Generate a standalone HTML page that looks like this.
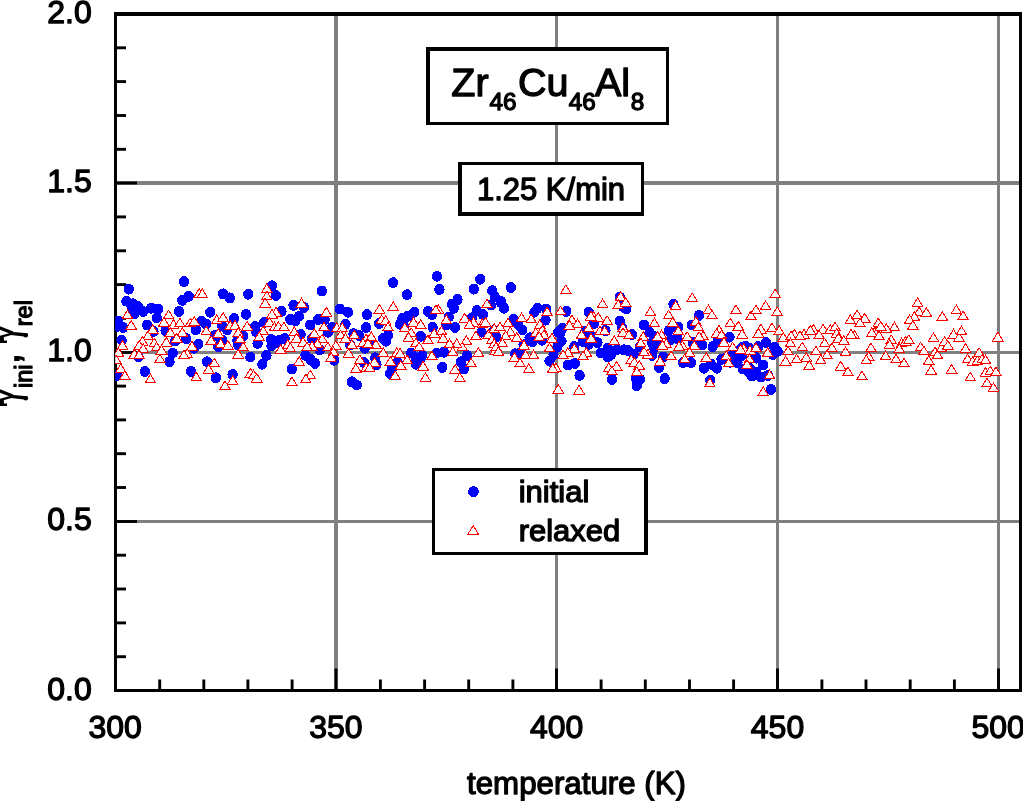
<!DOCTYPE html>
<html><head><meta charset="utf-8"><title>chart</title>
<style>html,body{margin:0;padding:0;background:#fff;overflow:hidden}svg{display:block;will-change:transform}text{font-family:"Liberation Sans",sans-serif;fill:#000;stroke:#000;stroke-width:1.3px;stroke-linejoin:round}</style></head><body>
<svg width="1023" height="801" viewBox="0 0 1023 801">
<rect width="1023" height="801" fill="#fff"/>
<g fill="#808080" shape-rendering="crispEdges">
<rect x="334" y="14" width="4" height="676"/>
<rect x="555" y="14" width="3" height="676"/>
<rect x="776" y="14" width="3" height="676"/>
<rect x="997" y="14" width="3" height="676"/>
<rect x="116" y="181" width="904" height="4"/>
<rect x="116" y="351" width="904" height="3"/>
<rect x="116" y="520" width="904" height="3"/>
</g>
<g fill="#000" shape-rendering="crispEdges">
<rect x="114" y="12" width="908" height="4"/>
<rect x="114" y="689" width="908" height="3"/>
<rect x="114" y="12" width="3" height="680"/>
<rect x="1019" y="12" width="3" height="680"/>
</g>
<g stroke="#000" fill="none" stroke-width="2.9">
<line x1="159.7" y1="690" x2="159.7" y2="679.5"/>
<line x1="203.8" y1="690" x2="203.8" y2="679.5"/>
<line x1="247.9" y1="690" x2="247.9" y2="679.5"/>
<line x1="292.1" y1="690" x2="292.1" y2="679.5"/>
<line x1="336.0" y1="690" x2="336.0" y2="668.5"/>
<line x1="380.4" y1="690" x2="380.4" y2="679.5"/>
<line x1="424.6" y1="690" x2="424.6" y2="679.5"/>
<line x1="468.7" y1="690" x2="468.7" y2="679.5"/>
<line x1="512.9" y1="690" x2="512.9" y2="679.5"/>
<line x1="556.5" y1="690" x2="556.5" y2="668.5"/>
<line x1="601.1" y1="690" x2="601.1" y2="679.5"/>
<line x1="645.3" y1="690" x2="645.3" y2="679.5"/>
<line x1="689.5" y1="690" x2="689.5" y2="679.5"/>
<line x1="733.6" y1="690" x2="733.6" y2="679.5"/>
<line x1="777.5" y1="690" x2="777.5" y2="668.5"/>
<line x1="821.9" y1="690" x2="821.9" y2="679.5"/>
<line x1="866.0" y1="690" x2="866.0" y2="679.5"/>
<line x1="910.2" y1="690" x2="910.2" y2="679.5"/>
<line x1="954.4" y1="690" x2="954.4" y2="679.5"/>
<line x1="998.5" y1="690" x2="998.5" y2="668.5"/>
<line x1="116" y1="656.7" x2="126.0" y2="656.7"/>
<line x1="116" y1="622.9" x2="126.0" y2="622.9"/>
<line x1="116" y1="589.0" x2="126.0" y2="589.0"/>
<line x1="116" y1="555.2" x2="126.0" y2="555.2"/>
<line x1="116" y1="521.5" x2="137.0" y2="521.5"/>
<line x1="116" y1="487.5" x2="126.0" y2="487.5"/>
<line x1="116" y1="453.7" x2="126.0" y2="453.7"/>
<line x1="116" y1="419.9" x2="126.0" y2="419.9"/>
<line x1="116" y1="386.1" x2="126.0" y2="386.1"/>
<line x1="116" y1="352.5" x2="137.0" y2="352.5"/>
<line x1="116" y1="318.4" x2="126.0" y2="318.4"/>
<line x1="116" y1="284.6" x2="126.0" y2="284.6"/>
<line x1="116" y1="250.8" x2="126.0" y2="250.8"/>
<line x1="116" y1="216.9" x2="126.0" y2="216.9"/>
<line x1="116" y1="183.0" x2="137.0" y2="183.0"/>
<line x1="116" y1="149.3" x2="126.0" y2="149.3"/>
<line x1="116" y1="115.5" x2="126.0" y2="115.5"/>
<line x1="116" y1="81.6" x2="126.0" y2="81.6"/>
<line x1="116" y1="47.8" x2="126.0" y2="47.8"/>
</g>
<clipPath id="c"><rect x="115.2" y="14" width="905" height="676"/></clipPath>
<g clip-path="url(#c)" shape-rendering="crispEdges">
<g fill="#0000ff">
<ellipse cx="128.8" cy="289.1" rx="5.15" ry="5.5"/>
<ellipse cx="183.9" cy="281.6" rx="5.15" ry="5.5"/>
<ellipse cx="126.4" cy="301.1" rx="5.15" ry="5.5"/>
<ellipse cx="132.8" cy="303.8" rx="5.15" ry="5.5"/>
<ellipse cx="136.0" cy="310.2" rx="5.15" ry="5.5"/>
<ellipse cx="188.7" cy="296.3" rx="5.15" ry="5.5"/>
<ellipse cx="182.3" cy="300.3" rx="5.15" ry="5.5"/>
<ellipse cx="223.1" cy="293.9" rx="5.15" ry="5.5"/>
<ellipse cx="229.9" cy="297.9" rx="5.15" ry="5.5"/>
<ellipse cx="151.1" cy="308.2" rx="5.15" ry="5.5"/>
<ellipse cx="158.3" cy="309.0" rx="5.15" ry="5.5"/>
<ellipse cx="143.2" cy="311.4" rx="5.15" ry="5.5"/>
<ellipse cx="134.4" cy="313.8" rx="5.15" ry="5.5"/>
<ellipse cx="179.1" cy="311.4" rx="5.15" ry="5.5"/>
<ellipse cx="210.3" cy="312.2" rx="5.15" ry="5.5"/>
<ellipse cx="156.7" cy="317.8" rx="5.15" ry="5.5"/>
<ellipse cx="118.4" cy="321.0" rx="5.15" ry="5.5"/>
<ellipse cx="123.2" cy="327.4" rx="5.15" ry="5.5"/>
<ellipse cx="147.2" cy="325.0" rx="5.15" ry="5.5"/>
<ellipse cx="165.5" cy="330.6" rx="5.15" ry="5.5"/>
<ellipse cx="201.5" cy="321.0" rx="5.15" ry="5.5"/>
<ellipse cx="206.3" cy="324.2" rx="5.15" ry="5.5"/>
<ellipse cx="195.9" cy="329.8" rx="5.15" ry="5.5"/>
<ellipse cx="234.2" cy="318.6" rx="5.15" ry="5.5"/>
<ellipse cx="227.1" cy="329.8" rx="5.15" ry="5.5"/>
<ellipse cx="222.3" cy="325.8" rx="5.15" ry="5.5"/>
<ellipse cx="121.6" cy="340.2" rx="5.15" ry="5.5"/>
<ellipse cx="175.1" cy="341.0" rx="5.15" ry="5.5"/>
<ellipse cx="186.3" cy="338.6" rx="5.15" ry="5.5"/>
<ellipse cx="198.3" cy="344.2" rx="5.15" ry="5.5"/>
<ellipse cx="194.3" cy="348.2" rx="5.15" ry="5.5"/>
<ellipse cx="222.3" cy="340.2" rx="5.15" ry="5.5"/>
<ellipse cx="218.3" cy="346.6" rx="5.15" ry="5.5"/>
<ellipse cx="237.4" cy="340.2" rx="5.15" ry="5.5"/>
<ellipse cx="238.2" cy="345.0" rx="5.15" ry="5.5"/>
<ellipse cx="172.7" cy="353.0" rx="5.15" ry="5.5"/>
<ellipse cx="169.5" cy="361.8" rx="5.15" ry="5.5"/>
<ellipse cx="138.4" cy="357.0" rx="5.15" ry="5.5"/>
<ellipse cx="207.1" cy="361.8" rx="5.15" ry="5.5"/>
<ellipse cx="144.8" cy="371.4" rx="5.15" ry="5.5"/>
<ellipse cx="191.1" cy="371.4" rx="5.15" ry="5.5"/>
<ellipse cx="215.9" cy="377.8" rx="5.15" ry="5.5"/>
<ellipse cx="232.6" cy="374.6" rx="5.15" ry="5.5"/>
<ellipse cx="116.8" cy="375.4" rx="5.15" ry="5.5"/>
<ellipse cx="215.1" cy="335.4" rx="5.15" ry="5.5"/>
<ellipse cx="153.5" cy="331.4" rx="5.15" ry="5.5"/>
<ellipse cx="248.3" cy="294.2" rx="5.15" ry="5.5"/>
<ellipse cx="272.0" cy="285.9" rx="5.15" ry="5.5"/>
<ellipse cx="276.0" cy="295.5" rx="5.15" ry="5.5"/>
<ellipse cx="321.8" cy="291.0" rx="5.15" ry="5.5"/>
<ellipse cx="246.1" cy="314.3" rx="5.15" ry="5.5"/>
<ellipse cx="293.5" cy="305.4" rx="5.15" ry="5.5"/>
<ellipse cx="303.9" cy="307.4" rx="5.15" ry="5.5"/>
<ellipse cx="281.5" cy="311.4" rx="5.15" ry="5.5"/>
<ellipse cx="299.1" cy="316.2" rx="5.15" ry="5.5"/>
<ellipse cx="290.3" cy="319.4" rx="5.15" ry="5.5"/>
<ellipse cx="339.9" cy="309.0" rx="5.15" ry="5.5"/>
<ellipse cx="347.9" cy="312.2" rx="5.15" ry="5.5"/>
<ellipse cx="367.0" cy="314.6" rx="5.15" ry="5.5"/>
<ellipse cx="264.0" cy="322.6" rx="5.15" ry="5.5"/>
<ellipse cx="255.2" cy="326.6" rx="5.15" ry="5.5"/>
<ellipse cx="318.3" cy="319.4" rx="5.15" ry="5.5"/>
<ellipse cx="310.3" cy="325.0" rx="5.15" ry="5.5"/>
<ellipse cx="324.7" cy="319.4" rx="5.15" ry="5.5"/>
<ellipse cx="331.9" cy="327.4" rx="5.15" ry="5.5"/>
<ellipse cx="345.5" cy="324.2" rx="5.15" ry="5.5"/>
<ellipse cx="300.7" cy="334.6" rx="5.15" ry="5.5"/>
<ellipse cx="271.2" cy="339.4" rx="5.15" ry="5.5"/>
<ellipse cx="257.6" cy="343.4" rx="5.15" ry="5.5"/>
<ellipse cx="279.1" cy="340.2" rx="5.15" ry="5.5"/>
<ellipse cx="284.7" cy="338.6" rx="5.15" ry="5.5"/>
<ellipse cx="274.4" cy="343.4" rx="5.15" ry="5.5"/>
<ellipse cx="250.4" cy="357.0" rx="5.15" ry="5.5"/>
<ellipse cx="266.4" cy="355.4" rx="5.15" ry="5.5"/>
<ellipse cx="262.4" cy="364.2" rx="5.15" ry="5.5"/>
<ellipse cx="305.5" cy="355.4" rx="5.15" ry="5.5"/>
<ellipse cx="310.3" cy="359.4" rx="5.15" ry="5.5"/>
<ellipse cx="315.1" cy="363.4" rx="5.15" ry="5.5"/>
<ellipse cx="291.9" cy="369.0" rx="5.15" ry="5.5"/>
<ellipse cx="334.3" cy="360.2" rx="5.15" ry="5.5"/>
<ellipse cx="319.9" cy="349.8" rx="5.15" ry="5.5"/>
<ellipse cx="351.9" cy="381.8" rx="5.15" ry="5.5"/>
<ellipse cx="356.7" cy="385.0" rx="5.15" ry="5.5"/>
<ellipse cx="366.2" cy="327.4" rx="5.15" ry="5.5"/>
<ellipse cx="364.6" cy="348.2" rx="5.15" ry="5.5"/>
<ellipse cx="353.5" cy="333.8" rx="5.15" ry="5.5"/>
<ellipse cx="359.0" cy="335.4" rx="5.15" ry="5.5"/>
<ellipse cx="243.2" cy="336.2" rx="5.15" ry="5.5"/>
<ellipse cx="311.9" cy="338.6" rx="5.15" ry="5.5"/>
<ellipse cx="327.9" cy="332.2" rx="5.15" ry="5.5"/>
<ellipse cx="350.3" cy="345.0" rx="5.15" ry="5.5"/>
<ellipse cx="363.8" cy="362.6" rx="5.15" ry="5.5"/>
<ellipse cx="393.1" cy="282.7" rx="5.15" ry="5.5"/>
<ellipse cx="437.0" cy="276.3" rx="5.15" ry="5.5"/>
<ellipse cx="480.3" cy="279.2" rx="5.15" ry="5.5"/>
<ellipse cx="407.1" cy="294.7" rx="5.15" ry="5.5"/>
<ellipse cx="439.4" cy="289.4" rx="5.15" ry="5.5"/>
<ellipse cx="473.9" cy="289.1" rx="5.15" ry="5.5"/>
<ellipse cx="492.3" cy="290.7" rx="5.15" ry="5.5"/>
<ellipse cx="457.5" cy="299.5" rx="5.15" ry="5.5"/>
<ellipse cx="451.9" cy="304.3" rx="5.15" ry="5.5"/>
<ellipse cx="414.3" cy="312.2" rx="5.15" ry="5.5"/>
<ellipse cx="407.9" cy="316.2" rx="5.15" ry="5.5"/>
<ellipse cx="402.4" cy="318.6" rx="5.15" ry="5.5"/>
<ellipse cx="400.0" cy="324.2" rx="5.15" ry="5.5"/>
<ellipse cx="427.9" cy="311.4" rx="5.15" ry="5.5"/>
<ellipse cx="431.9" cy="314.6" rx="5.15" ry="5.5"/>
<ellipse cx="448.7" cy="317.0" rx="5.15" ry="5.5"/>
<ellipse cx="476.7" cy="310.6" rx="5.15" ry="5.5"/>
<ellipse cx="483.1" cy="314.6" rx="5.15" ry="5.5"/>
<ellipse cx="379.2" cy="323.4" rx="5.15" ry="5.5"/>
<ellipse cx="432.7" cy="327.4" rx="5.15" ry="5.5"/>
<ellipse cx="455.1" cy="327.4" rx="5.15" ry="5.5"/>
<ellipse cx="420.7" cy="336.2" rx="5.15" ry="5.5"/>
<ellipse cx="388.0" cy="335.4" rx="5.15" ry="5.5"/>
<ellipse cx="383.2" cy="338.6" rx="5.15" ry="5.5"/>
<ellipse cx="411.1" cy="353.0" rx="5.15" ry="5.5"/>
<ellipse cx="415.9" cy="357.8" rx="5.15" ry="5.5"/>
<ellipse cx="422.3" cy="355.4" rx="5.15" ry="5.5"/>
<ellipse cx="415.9" cy="364.2" rx="5.15" ry="5.5"/>
<ellipse cx="436.7" cy="353.0" rx="5.15" ry="5.5"/>
<ellipse cx="443.9" cy="352.2" rx="5.15" ry="5.5"/>
<ellipse cx="442.3" cy="367.4" rx="5.15" ry="5.5"/>
<ellipse cx="467.1" cy="355.4" rx="5.15" ry="5.5"/>
<ellipse cx="460.7" cy="361.8" rx="5.15" ry="5.5"/>
<ellipse cx="463.9" cy="369.0" rx="5.15" ry="5.5"/>
<ellipse cx="392.0" cy="368.2" rx="5.15" ry="5.5"/>
<ellipse cx="397.6" cy="362.6" rx="5.15" ry="5.5"/>
<ellipse cx="375.2" cy="357.8" rx="5.15" ry="5.5"/>
<ellipse cx="481.5" cy="332.2" rx="5.15" ry="5.5"/>
<ellipse cx="494.2" cy="330.6" rx="5.15" ry="5.5"/>
<ellipse cx="371.2" cy="343.4" rx="5.15" ry="5.5"/>
<ellipse cx="471.9" cy="317.8" rx="5.15" ry="5.5"/>
<ellipse cx="491.0" cy="305.1" rx="5.15" ry="5.5"/>
<ellipse cx="495.0" cy="297.1" rx="5.15" ry="5.5"/>
<ellipse cx="510.9" cy="287.5" rx="5.15" ry="5.5"/>
<ellipse cx="500.8" cy="301.1" rx="5.15" ry="5.5"/>
<ellipse cx="504.0" cy="308.2" rx="5.15" ry="5.5"/>
<ellipse cx="537.5" cy="308.2" rx="5.15" ry="5.5"/>
<ellipse cx="546.3" cy="309.0" rx="5.15" ry="5.5"/>
<ellipse cx="534.4" cy="312.2" rx="5.15" ry="5.5"/>
<ellipse cx="566.3" cy="311.4" rx="5.15" ry="5.5"/>
<ellipse cx="588.7" cy="312.2" rx="5.15" ry="5.5"/>
<ellipse cx="513.6" cy="319.4" rx="5.15" ry="5.5"/>
<ellipse cx="545.5" cy="320.2" rx="5.15" ry="5.5"/>
<ellipse cx="518.4" cy="325.0" rx="5.15" ry="5.5"/>
<ellipse cx="522.4" cy="329.8" rx="5.15" ry="5.5"/>
<ellipse cx="619.8" cy="321.0" rx="5.15" ry="5.5"/>
<ellipse cx="594.3" cy="323.4" rx="5.15" ry="5.5"/>
<ellipse cx="562.3" cy="328.2" rx="5.15" ry="5.5"/>
<ellipse cx="558.3" cy="332.2" rx="5.15" ry="5.5"/>
<ellipse cx="605.5" cy="330.6" rx="5.15" ry="5.5"/>
<ellipse cx="529.6" cy="337.8" rx="5.15" ry="5.5"/>
<ellipse cx="542.3" cy="340.2" rx="5.15" ry="5.5"/>
<ellipse cx="561.5" cy="341.0" rx="5.15" ry="5.5"/>
<ellipse cx="557.5" cy="346.6" rx="5.15" ry="5.5"/>
<ellipse cx="583.1" cy="341.8" rx="5.15" ry="5.5"/>
<ellipse cx="588.7" cy="344.2" rx="5.15" ry="5.5"/>
<ellipse cx="597.5" cy="342.6" rx="5.15" ry="5.5"/>
<ellipse cx="574.3" cy="346.6" rx="5.15" ry="5.5"/>
<ellipse cx="553.5" cy="354.6" rx="5.15" ry="5.5"/>
<ellipse cx="549.5" cy="361.0" rx="5.15" ry="5.5"/>
<ellipse cx="515.2" cy="353.8" rx="5.15" ry="5.5"/>
<ellipse cx="520.0" cy="353.0" rx="5.15" ry="5.5"/>
<ellipse cx="600.7" cy="353.0" rx="5.15" ry="5.5"/>
<ellipse cx="607.9" cy="348.2" rx="5.15" ry="5.5"/>
<ellipse cx="616.6" cy="349.8" rx="5.15" ry="5.5"/>
<ellipse cx="611.1" cy="354.6" rx="5.15" ry="5.5"/>
<ellipse cx="567.9" cy="365.0" rx="5.15" ry="5.5"/>
<ellipse cx="575.1" cy="363.4" rx="5.15" ry="5.5"/>
<ellipse cx="579.6" cy="375.4" rx="5.15" ry="5.5"/>
<ellipse cx="611.9" cy="379.4" rx="5.15" ry="5.5"/>
<ellipse cx="619.8" cy="297.1" rx="5.15" ry="5.5"/>
<ellipse cx="623.0" cy="306.7" rx="5.15" ry="5.5"/>
<ellipse cx="623.8" cy="349.8" rx="5.15" ry="5.5"/>
<ellipse cx="496.0" cy="337.0" rx="5.15" ry="5.5"/>
<ellipse cx="590.3" cy="335.4" rx="5.15" ry="5.5"/>
<ellipse cx="585.5" cy="331.4" rx="5.15" ry="5.5"/>
<ellipse cx="626.4" cy="309.0" rx="5.15" ry="5.5"/>
<ellipse cx="673.5" cy="304.3" rx="5.15" ry="5.5"/>
<ellipse cx="699.1" cy="315.4" rx="5.15" ry="5.5"/>
<ellipse cx="644.0" cy="325.0" rx="5.15" ry="5.5"/>
<ellipse cx="691.9" cy="325.0" rx="5.15" ry="5.5"/>
<ellipse cx="678.3" cy="327.4" rx="5.15" ry="5.5"/>
<ellipse cx="668.7" cy="330.6" rx="5.15" ry="5.5"/>
<ellipse cx="649.6" cy="332.2" rx="5.15" ry="5.5"/>
<ellipse cx="632.0" cy="334.6" rx="5.15" ry="5.5"/>
<ellipse cx="729.5" cy="337.0" rx="5.15" ry="5.5"/>
<ellipse cx="677.5" cy="338.6" rx="5.15" ry="5.5"/>
<ellipse cx="652.0" cy="342.6" rx="5.15" ry="5.5"/>
<ellipse cx="657.6" cy="344.2" rx="5.15" ry="5.5"/>
<ellipse cx="670.3" cy="340.2" rx="5.15" ry="5.5"/>
<ellipse cx="640.0" cy="346.6" rx="5.15" ry="5.5"/>
<ellipse cx="628.0" cy="350.6" rx="5.15" ry="5.5"/>
<ellipse cx="633.6" cy="354.6" rx="5.15" ry="5.5"/>
<ellipse cx="702.3" cy="345.0" rx="5.15" ry="5.5"/>
<ellipse cx="712.7" cy="346.6" rx="5.15" ry="5.5"/>
<ellipse cx="717.5" cy="341.8" rx="5.15" ry="5.5"/>
<ellipse cx="692.7" cy="342.6" rx="5.15" ry="5.5"/>
<ellipse cx="742.2" cy="347.4" rx="5.15" ry="5.5"/>
<ellipse cx="749.4" cy="348.2" rx="5.15" ry="5.5"/>
<ellipse cx="734.3" cy="351.4" rx="5.15" ry="5.5"/>
<ellipse cx="663.1" cy="357.0" rx="5.15" ry="5.5"/>
<ellipse cx="652.0" cy="355.4" rx="5.15" ry="5.5"/>
<ellipse cx="659.2" cy="367.4" rx="5.15" ry="5.5"/>
<ellipse cx="683.1" cy="362.6" rx="5.15" ry="5.5"/>
<ellipse cx="691.1" cy="362.6" rx="5.15" ry="5.5"/>
<ellipse cx="703.9" cy="368.2" rx="5.15" ry="5.5"/>
<ellipse cx="711.1" cy="364.2" rx="5.15" ry="5.5"/>
<ellipse cx="716.7" cy="368.2" rx="5.15" ry="5.5"/>
<ellipse cx="721.5" cy="359.4" rx="5.15" ry="5.5"/>
<ellipse cx="737.5" cy="362.6" rx="5.15" ry="5.5"/>
<ellipse cx="743.0" cy="369.0" rx="5.15" ry="5.5"/>
<ellipse cx="748.6" cy="372.2" rx="5.15" ry="5.5"/>
<ellipse cx="664.7" cy="378.6" rx="5.15" ry="5.5"/>
<ellipse cx="636.0" cy="378.6" rx="5.15" ry="5.5"/>
<ellipse cx="640.0" cy="379.4" rx="5.15" ry="5.5"/>
<ellipse cx="636.8" cy="385.7" rx="5.15" ry="5.5"/>
<ellipse cx="710.3" cy="380.2" rx="5.15" ry="5.5"/>
<ellipse cx="726.3" cy="357.8" rx="5.15" ry="5.5"/>
<ellipse cx="739.1" cy="355.4" rx="5.15" ry="5.5"/>
<ellipse cx="766.1" cy="342.6" rx="5.15" ry="5.5"/>
<ellipse cx="758.4" cy="346.6" rx="5.15" ry="5.5"/>
<ellipse cx="774.4" cy="347.4" rx="5.15" ry="5.5"/>
<ellipse cx="777.6" cy="351.4" rx="5.15" ry="5.5"/>
<ellipse cx="772.8" cy="354.6" rx="5.15" ry="5.5"/>
<ellipse cx="753.6" cy="355.4" rx="5.15" ry="5.5"/>
<ellipse cx="763.2" cy="365.0" rx="5.15" ry="5.5"/>
<ellipse cx="756.0" cy="372.2" rx="5.15" ry="5.5"/>
<ellipse cx="760.8" cy="377.0" rx="5.15" ry="5.5"/>
<ellipse cx="768.0" cy="375.4" rx="5.15" ry="5.5"/>
<ellipse cx="770.9" cy="389.4" rx="5.15" ry="5.5"/>
<ellipse cx="752.0" cy="370.6" rx="5.15" ry="5.5"/>
<ellipse cx="386.0" cy="341.2" rx="5.15" ry="5.5"/>
<ellipse cx="419.5" cy="361.0" rx="5.15" ry="5.5"/>
<ellipse cx="390.2" cy="373.6" rx="5.15" ry="5.5"/>
<ellipse cx="453.7" cy="308.3" rx="5.15" ry="5.5"/>
<ellipse cx="404.0" cy="326.3" rx="5.15" ry="5.5"/>
<ellipse cx="446.5" cy="324.5" rx="5.15" ry="5.5"/>
<ellipse cx="376.4" cy="364.6" rx="5.15" ry="5.5"/>
<ellipse cx="501.2" cy="302.9" rx="5.15" ry="5.5"/>
<ellipse cx="532.6" cy="341.6" rx="5.15" ry="5.5"/>
<ellipse cx="523.6" cy="344.8" rx="5.15" ry="5.5"/>
<ellipse cx="607.9" cy="356.8" rx="5.15" ry="5.5"/>
<ellipse cx="560.6" cy="332.2" rx="5.15" ry="5.5"/>
<ellipse cx="622.3" cy="328.1" rx="5.15" ry="5.5"/>
<ellipse cx="653.5" cy="336.4" rx="5.15" ry="5.5"/>
<ellipse cx="654.1" cy="347.8" rx="5.15" ry="5.5"/>
<ellipse cx="732.7" cy="355.0" rx="5.15" ry="5.5"/>
<ellipse cx="748.3" cy="367.0" rx="5.15" ry="5.5"/>
<ellipse cx="745.3" cy="346.4" rx="5.15" ry="5.5"/>
<ellipse cx="729.7" cy="362.2" rx="5.15" ry="5.5"/>
<ellipse cx="131.8" cy="308.3" rx="5.15" ry="5.5"/>
<ellipse cx="137.8" cy="306.5" rx="5.15" ry="5.5"/>
<ellipse cx="117.4" cy="326.3" rx="5.15" ry="5.5"/>
<ellipse cx="271.5" cy="345.7" rx="5.15" ry="5.5"/>
<ellipse cx="295.5" cy="320.5" rx="5.15" ry="5.5"/>
<ellipse cx="255.9" cy="331.6" rx="5.15" ry="5.5"/>
<ellipse cx="752.0" cy="376.1" rx="5.15" ry="5.5"/>
<ellipse cx="756.2" cy="358.1" rx="5.15" ry="5.5"/>
<ellipse cx="741.8" cy="355.7" rx="5.15" ry="5.5"/>
</g>
<g fill="#fff" stroke="#ff0000" stroke-width="1">
<path d="M199.1 288.7L204.4 297.4L193.8 297.4Z"/>
<path d="M202.3 289.1L207.6 297.8L197.0 297.8Z"/>
<path d="M127.5 310.2L132.8 318.9L122.2 318.9Z"/>
<path d="M131.2 320.6L136.5 329.3L125.9 329.3Z"/>
<path d="M168.7 310.2L174.0 318.9L163.4 318.9Z"/>
<path d="M163.9 317.4L169.2 326.1L158.6 326.1Z"/>
<path d="M173.5 319.8L178.8 328.5L168.2 328.5Z"/>
<path d="M179.9 318.2L185.2 326.9L174.6 326.9Z"/>
<path d="M190.3 318.2L195.6 326.9L185.0 326.9Z"/>
<path d="M194.3 316.6L199.6 325.3L189.0 325.3Z"/>
<path d="M216.7 315.0L222.0 323.7L211.4 323.7Z"/>
<path d="M223.1 312.6L228.4 321.3L217.8 321.3Z"/>
<path d="M230.2 320.6L235.5 329.3L224.9 329.3Z"/>
<path d="M235.0 320.6L240.3 329.3L229.7 329.3Z"/>
<path d="M152.7 324.6L158.0 333.3L147.4 333.3Z"/>
<path d="M148.0 331.0L153.3 339.7L142.7 339.7Z"/>
<path d="M170.3 327.8L175.6 336.5L165.0 336.5Z"/>
<path d="M182.3 327.8L187.6 336.5L177.0 336.5Z"/>
<path d="M176.7 333.4L182.0 342.1L171.4 342.1Z"/>
<path d="M206.3 326.2L211.6 334.9L201.0 334.9Z"/>
<path d="M218.3 328.6L223.6 337.3L213.0 337.3Z"/>
<path d="M238.2 327.8L243.5 336.5L232.9 336.5Z"/>
<path d="M211.1 335.8L216.4 344.5L205.8 344.5Z"/>
<path d="M220.7 339.0L226.0 347.7L215.4 347.7Z"/>
<path d="M227.9 340.6L233.2 349.3L222.6 349.3Z"/>
<path d="M166.3 337.4L171.6 346.1L161.0 346.1Z"/>
<path d="M142.4 336.6L147.7 345.3L137.1 345.3Z"/>
<path d="M139.2 340.6L144.5 349.3L133.9 349.3Z"/>
<path d="M154.3 338.2L159.6 346.9L149.0 346.9Z"/>
<path d="M156.7 342.2L162.0 350.9L151.4 350.9Z"/>
<path d="M143.2 343.8L148.5 352.5L137.9 352.5Z"/>
<path d="M122.4 340.6L127.7 349.3L117.1 349.3Z"/>
<path d="M118.4 347.8L123.7 356.5L113.1 356.5Z"/>
<path d="M134.4 349.4L139.7 358.1L129.1 358.1Z"/>
<path d="M139.2 350.2L144.5 358.9L133.9 358.9Z"/>
<path d="M161.5 345.4L166.8 354.1L156.2 354.1Z"/>
<path d="M159.9 354.2L165.2 362.9L154.6 362.9Z"/>
<path d="M191.9 341.4L197.2 350.1L186.6 350.1Z"/>
<path d="M187.1 348.6L192.4 357.3L181.8 357.3Z"/>
<path d="M183.9 350.2L189.2 358.9L178.6 358.9Z"/>
<path d="M238.2 349.4L243.5 358.1L232.9 358.1Z"/>
<path d="M214.3 358.2L219.6 366.9L209.0 366.9Z"/>
<path d="M208.7 364.6L214.0 373.3L203.4 373.3Z"/>
<path d="M120.8 363.8L126.1 372.5L115.5 372.5Z"/>
<path d="M124.8 371.0L130.1 379.7L119.5 379.7Z"/>
<path d="M150.4 374.2L155.7 382.9L145.1 382.9Z"/>
<path d="M196.2 372.2L201.5 380.9L190.9 380.9Z"/>
<path d="M232.6 375.8L237.9 384.5L227.3 384.5Z"/>
<path d="M225.0 381.0L230.3 389.7L219.7 389.7Z"/>
<path d="M116.0 355.0L121.3 363.7L110.7 363.7Z"/>
<path d="M266.8 283.9L272.1 292.6L261.5 292.6Z"/>
<path d="M266.8 291.1L272.1 299.8L261.5 299.8Z"/>
<path d="M265.2 298.3L270.5 307.0L259.9 307.0Z"/>
<path d="M301.5 298.3L306.8 307.0L296.2 307.0Z"/>
<path d="M326.3 307.4L331.6 316.1L321.0 316.1Z"/>
<path d="M276.0 307.4L281.3 316.1L270.7 316.1Z"/>
<path d="M272.0 309.4L277.3 318.1L266.7 318.1Z"/>
<path d="M269.6 317.4L274.9 326.1L264.3 326.1Z"/>
<path d="M274.4 322.2L279.7 330.9L269.1 330.9Z"/>
<path d="M278.4 321.7L283.7 330.4L273.1 330.4Z"/>
<path d="M283.9 322.2L289.2 330.9L278.6 330.9Z"/>
<path d="M247.2 321.4L252.5 330.1L241.9 330.1Z"/>
<path d="M263.2 326.2L268.5 334.9L257.9 334.9Z"/>
<path d="M259.2 331.8L264.5 340.5L253.9 340.5Z"/>
<path d="M294.3 327.0L299.6 335.7L289.0 335.7Z"/>
<path d="M296.7 333.4L302.0 342.1L291.4 342.1Z"/>
<path d="M287.9 339.8L293.2 348.5L282.6 348.5Z"/>
<path d="M303.1 337.4L308.4 346.1L297.8 346.1Z"/>
<path d="M243.2 342.2L248.5 350.9L237.9 350.9Z"/>
<path d="M280.7 344.6L286.0 353.3L275.4 353.3Z"/>
<path d="M290.3 343.0L295.6 351.7L285.0 351.7Z"/>
<path d="M314.3 328.6L319.6 337.3L309.0 337.3Z"/>
<path d="M323.9 322.2L329.2 330.9L318.6 330.9Z"/>
<path d="M322.3 334.2L327.6 342.9L317.0 342.9Z"/>
<path d="M317.5 339.0L322.8 347.7L312.2 347.7Z"/>
<path d="M311.9 341.4L317.2 350.1L306.6 350.1Z"/>
<path d="M307.1 342.2L312.4 350.9L301.8 350.9Z"/>
<path d="M327.9 342.2L333.2 350.9L322.6 350.9Z"/>
<path d="M336.7 323.0L342.0 331.7L331.4 331.7Z"/>
<path d="M342.3 323.0L347.6 331.7L337.0 331.7Z"/>
<path d="M340.7 330.2L346.0 338.9L335.4 338.9Z"/>
<path d="M345.5 333.4L350.8 342.1L340.2 342.1Z"/>
<path d="M335.9 340.6L341.2 349.3L330.6 349.3Z"/>
<path d="M333.5 347.0L338.8 355.7L328.2 355.7Z"/>
<path d="M331.1 352.6L336.4 361.3L325.8 361.3Z"/>
<path d="M354.3 330.2L359.6 338.9L349.0 338.9Z"/>
<path d="M351.9 339.8L357.2 348.5L346.6 348.5Z"/>
<path d="M348.7 348.6L354.0 357.3L343.4 357.3Z"/>
<path d="M366.2 334.2L371.5 342.9L360.9 342.9Z"/>
<path d="M363.0 338.2L368.3 346.9L357.7 346.9Z"/>
<path d="M359.8 355.0L365.1 363.7L354.5 363.7Z"/>
<path d="M355.9 363.8L361.2 372.5L350.6 372.5Z"/>
<path d="M366.2 363.0L371.5 371.7L360.9 371.7Z"/>
<path d="M299.1 356.6L304.4 365.3L293.8 365.3Z"/>
<path d="M250.4 368.6L255.7 377.3L245.1 377.3Z"/>
<path d="M253.6 370.2L258.9 378.9L248.3 378.9Z"/>
<path d="M256.8 373.4L262.1 382.1L251.5 382.1Z"/>
<path d="M291.9 377.0L297.2 385.7L286.6 385.7Z"/>
<path d="M310.3 370.2L315.6 378.9L305.0 378.9Z"/>
<path d="M305.8 374.2L311.1 382.9L300.5 382.9Z"/>
<path d="M240.0 334.2L245.3 342.9L234.7 342.9Z"/>
<path d="M379.5 304.6L384.8 313.3L374.2 313.3Z"/>
<path d="M393.2 301.9L398.5 310.6L387.9 310.6Z"/>
<path d="M438.3 304.6L443.6 313.3L433.0 313.3Z"/>
<path d="M487.0 299.1L492.3 307.8L481.7 307.8Z"/>
<path d="M381.6 315.0L386.9 323.7L376.3 323.7Z"/>
<path d="M385.6 315.8L390.9 324.5L380.3 324.5Z"/>
<path d="M388.0 322.2L393.3 330.9L382.7 330.9Z"/>
<path d="M413.5 317.4L418.8 326.1L408.2 326.1Z"/>
<path d="M420.7 319.8L426.0 328.5L415.4 328.5Z"/>
<path d="M404.8 323.0L410.1 331.7L399.5 331.7Z"/>
<path d="M411.1 327.8L416.4 336.5L405.8 336.5Z"/>
<path d="M408.7 332.6L414.0 341.3L403.4 341.3Z"/>
<path d="M415.9 338.2L421.2 346.9L410.6 346.9Z"/>
<path d="M419.1 342.2L424.4 350.9L413.8 350.9Z"/>
<path d="M427.9 335.0L433.2 343.7L422.6 343.7Z"/>
<path d="M434.3 328.6L439.6 337.3L429.0 337.3Z"/>
<path d="M441.5 326.2L446.8 334.9L436.2 334.9Z"/>
<path d="M443.1 333.4L448.4 342.1L437.8 342.1Z"/>
<path d="M446.3 315.0L451.6 323.7L441.0 323.7Z"/>
<path d="M464.7 313.4L470.0 322.1L459.4 322.1Z"/>
<path d="M473.5 317.4L478.8 326.1L468.2 326.1Z"/>
<path d="M482.3 319.0L487.6 327.7L477.0 327.7Z"/>
<path d="M485.4 317.4L490.7 326.1L480.1 326.1Z"/>
<path d="M469.5 319.8L474.8 328.5L464.2 328.5Z"/>
<path d="M475.9 331.0L481.2 339.7L470.6 339.7Z"/>
<path d="M488.6 329.4L493.9 338.1L483.3 338.1Z"/>
<path d="M494.2 323.8L499.5 332.5L488.9 332.5Z"/>
<path d="M466.3 335.8L471.6 344.5L461.0 344.5Z"/>
<path d="M462.3 342.2L467.6 350.9L457.0 350.9Z"/>
<path d="M456.7 339.0L462.0 347.7L451.4 347.7Z"/>
<path d="M449.5 339.0L454.8 347.7L444.2 347.7Z"/>
<path d="M452.7 347.0L458.0 355.7L447.4 355.7Z"/>
<path d="M478.3 347.8L483.6 356.5L473.0 356.5Z"/>
<path d="M491.8 335.0L497.1 343.7L486.5 343.7Z"/>
<path d="M494.2 339.0L499.5 347.7L488.9 347.7Z"/>
<path d="M495.0 346.2L500.3 354.9L489.7 354.9Z"/>
<path d="M371.2 331.8L376.5 340.5L365.9 340.5Z"/>
<path d="M376.0 339.8L381.3 348.5L370.7 348.5Z"/>
<path d="M383.2 347.8L388.5 356.5L377.9 356.5Z"/>
<path d="M396.8 347.8L402.1 356.5L391.5 356.5Z"/>
<path d="M400.0 348.6L405.3 357.3L394.7 357.3Z"/>
<path d="M407.1 355.0L412.4 363.7L401.8 363.7Z"/>
<path d="M390.4 356.6L395.7 365.3L385.1 365.3Z"/>
<path d="M400.8 360.6L406.1 369.3L395.5 369.3Z"/>
<path d="M374.4 357.4L379.7 366.1L369.1 366.1Z"/>
<path d="M369.6 363.0L374.9 371.7L364.3 371.7Z"/>
<path d="M431.9 351.0L437.2 359.7L426.6 359.7Z"/>
<path d="M423.1 361.4L428.4 370.1L417.8 370.1Z"/>
<path d="M455.1 364.6L460.4 373.3L449.8 373.3Z"/>
<path d="M471.1 358.2L476.4 366.9L465.8 366.9Z"/>
<path d="M395.2 371.0L400.5 379.7L389.9 379.7Z"/>
<path d="M425.5 372.9L430.8 381.6L420.2 381.6Z"/>
<path d="M459.9 372.9L465.2 381.6L454.6 381.6Z"/>
<path d="M368.0 339.0L373.3 347.7L362.7 347.7Z"/>
<path d="M565.8 285.0L571.1 293.7L560.5 293.7Z"/>
<path d="M602.6 299.1L607.9 307.8L597.3 307.8Z"/>
<path d="M620.6 291.9L625.9 300.6L615.3 300.6Z"/>
<path d="M618.2 299.9L623.5 308.6L612.9 308.6Z"/>
<path d="M560.7 306.2L566.0 314.9L555.4 314.9Z"/>
<path d="M547.1 307.0L552.4 315.7L541.8 315.7Z"/>
<path d="M521.6 313.1L526.9 321.8L516.3 321.8Z"/>
<path d="M531.2 314.2L536.5 322.9L525.9 322.9Z"/>
<path d="M508.0 318.2L513.3 326.9L502.7 326.9Z"/>
<path d="M500.0 322.2L505.3 330.9L494.7 330.9Z"/>
<path d="M539.9 319.8L545.2 328.5L534.6 328.5Z"/>
<path d="M535.9 327.8L541.2 336.5L530.6 336.5Z"/>
<path d="M542.3 325.4L547.6 334.1L537.0 334.1Z"/>
<path d="M543.9 330.2L549.2 338.9L538.6 338.9Z"/>
<path d="M539.1 331.8L544.4 340.5L533.8 340.5Z"/>
<path d="M510.4 327.0L515.7 335.7L505.1 335.7Z"/>
<path d="M505.6 331.0L510.9 339.7L500.3 339.7Z"/>
<path d="M516.8 332.6L522.1 341.3L511.5 341.3Z"/>
<path d="M502.4 338.2L507.7 346.9L497.1 346.9Z"/>
<path d="M496.0 342.2L501.3 350.9L490.7 350.9Z"/>
<path d="M524.0 340.6L529.3 349.3L518.7 349.3Z"/>
<path d="M551.9 333.4L557.2 342.1L546.6 342.1Z"/>
<path d="M549.5 343.0L554.8 351.7L544.2 351.7Z"/>
<path d="M571.9 315.0L577.2 323.7L566.6 323.7Z"/>
<path d="M577.5 319.0L582.8 327.7L572.2 327.7Z"/>
<path d="M569.5 320.6L574.8 329.3L564.2 329.3Z"/>
<path d="M588.7 323.0L594.0 331.7L583.4 331.7Z"/>
<path d="M593.5 311.8L598.8 320.5L588.2 320.5Z"/>
<path d="M598.3 312.6L603.6 321.3L593.0 321.3Z"/>
<path d="M607.1 315.8L612.4 324.5L601.8 324.5Z"/>
<path d="M599.9 326.2L605.2 334.9L594.6 334.9Z"/>
<path d="M604.7 326.2L610.0 334.9L599.4 334.9Z"/>
<path d="M581.5 330.2L586.8 338.9L576.2 338.9Z"/>
<path d="M591.1 333.4L596.4 342.1L585.8 342.1Z"/>
<path d="M614.2 335.8L619.5 344.5L608.9 344.5Z"/>
<path d="M623.0 323.0L628.3 331.7L617.7 331.7Z"/>
<path d="M623.0 327.8L628.3 336.5L617.7 336.5Z"/>
<path d="M574.3 343.8L579.6 352.5L569.0 352.5Z"/>
<path d="M567.9 347.8L573.2 356.5L562.6 356.5Z"/>
<path d="M563.1 350.2L568.4 358.9L557.8 358.9Z"/>
<path d="M586.3 347.8L591.6 356.5L581.0 356.5Z"/>
<path d="M583.1 351.0L588.4 359.7L577.8 359.7Z"/>
<path d="M514.4 352.6L519.7 361.3L509.1 361.3Z"/>
<path d="M525.6 350.2L530.9 358.9L520.3 358.9Z"/>
<path d="M533.6 350.2L538.9 358.9L528.3 358.9Z"/>
<path d="M520.0 358.2L525.3 366.9L514.7 366.9Z"/>
<path d="M528.8 363.8L534.1 372.5L523.5 372.5Z"/>
<path d="M555.9 363.0L561.2 371.7L550.6 371.7Z"/>
<path d="M552.7 363.8L558.0 372.5L547.4 372.5Z"/>
<path d="M616.6 361.4L621.9 370.1L611.3 370.1Z"/>
<path d="M608.7 363.0L614.0 371.7L603.4 371.7Z"/>
<path d="M611.9 366.2L617.2 374.9L606.6 374.9Z"/>
<path d="M558.3 384.5L563.6 393.2L553.0 393.2Z"/>
<path d="M579.1 385.3L584.4 394.0L573.8 394.0Z"/>
<path d="M498.4 347.0L503.7 355.7L493.1 355.7Z"/>
<path d="M692.2 293.0L697.5 301.7L686.9 301.7Z"/>
<path d="M625.6 297.5L630.9 306.2L620.3 306.2Z"/>
<path d="M675.6 301.0L680.9 309.7L670.3 309.7Z"/>
<path d="M650.4 307.0L655.7 315.7L645.1 315.7Z"/>
<path d="M708.4 305.1L713.7 313.8L703.1 313.8Z"/>
<path d="M711.9 310.2L717.2 318.9L706.6 318.9Z"/>
<path d="M735.9 305.1L741.2 313.8L730.6 313.8Z"/>
<path d="M668.7 310.2L674.0 318.9L663.4 318.9Z"/>
<path d="M751.0 311.0L756.3 319.7L745.7 319.7Z"/>
<path d="M654.4 318.2L659.7 326.9L649.1 326.9Z"/>
<path d="M672.7 317.4L678.0 326.1L667.4 326.1Z"/>
<path d="M695.9 316.6L701.2 325.3L690.6 325.3Z"/>
<path d="M698.3 322.2L703.6 330.9L693.0 330.9Z"/>
<path d="M730.3 318.2L735.6 326.9L725.0 326.9Z"/>
<path d="M738.3 321.4L743.6 330.1L733.0 330.1Z"/>
<path d="M742.2 329.4L747.5 338.1L736.9 338.1Z"/>
<path d="M719.1 325.4L724.4 334.1L713.8 334.1Z"/>
<path d="M716.7 328.6L722.0 337.3L711.4 337.3Z"/>
<path d="M721.5 330.2L726.8 338.9L716.2 338.9Z"/>
<path d="M703.1 331.0L708.4 339.7L697.8 339.7Z"/>
<path d="M699.1 331.8L704.4 340.5L693.8 340.5Z"/>
<path d="M678.3 326.2L683.6 334.9L673.0 334.9Z"/>
<path d="M687.1 331.8L692.4 340.5L681.8 340.5Z"/>
<path d="M661.6 330.2L666.9 338.9L656.3 338.9Z"/>
<path d="M657.6 331.8L662.9 340.5L652.3 340.5Z"/>
<path d="M643.2 331.8L648.5 340.5L637.9 340.5Z"/>
<path d="M628.8 330.2L634.1 338.9L623.5 338.9Z"/>
<path d="M640.8 338.2L646.1 346.9L635.5 346.9Z"/>
<path d="M666.3 339.0L671.6 347.7L661.0 347.7Z"/>
<path d="M662.4 340.6L667.7 349.3L657.1 349.3Z"/>
<path d="M682.3 340.6L687.6 349.3L677.0 349.3Z"/>
<path d="M679.1 341.4L684.4 350.1L673.8 350.1Z"/>
<path d="M694.3 340.6L699.6 349.3L689.0 349.3Z"/>
<path d="M723.9 337.4L729.2 346.1L718.6 346.1Z"/>
<path d="M732.7 342.2L738.0 350.9L727.4 350.9Z"/>
<path d="M743.8 343.8L749.1 352.5L738.5 352.5Z"/>
<path d="M740.7 344.6L746.0 353.3L735.4 353.3Z"/>
<path d="M750.2 345.4L755.5 354.1L744.9 354.1Z"/>
<path d="M689.5 347.8L694.8 356.5L684.2 356.5Z"/>
<path d="M671.1 351.0L676.4 359.7L665.8 359.7Z"/>
<path d="M648.0 349.4L653.3 358.1L642.7 358.1Z"/>
<path d="M644.0 347.0L649.3 355.7L638.7 355.7Z"/>
<path d="M684.7 354.2L690.0 362.9L679.4 362.9Z"/>
<path d="M706.3 352.6L711.6 361.3L701.0 361.3Z"/>
<path d="M726.3 351.0L731.6 359.7L721.0 359.7Z"/>
<path d="M728.7 358.2L734.0 366.9L723.4 366.9Z"/>
<path d="M749.4 354.2L754.7 362.9L744.1 362.9Z"/>
<path d="M747.0 359.8L752.3 368.5L741.7 368.5Z"/>
<path d="M660.0 356.6L665.3 365.3L654.7 365.3Z"/>
<path d="M631.2 355.0L636.5 363.7L625.9 363.7Z"/>
<path d="M634.4 357.4L639.7 366.1L629.1 366.1Z"/>
<path d="M639.2 360.6L644.5 369.3L633.9 369.3Z"/>
<path d="M636.8 367.0L642.1 375.7L631.5 375.7Z"/>
<path d="M709.8 378.2L715.1 386.9L704.5 386.9Z"/>
<path d="M775.2 289.1L780.5 297.8L769.9 297.8Z"/>
<path d="M765.6 301.0L770.9 309.7L760.3 309.7Z"/>
<path d="M756.0 305.1L761.3 313.8L750.7 313.8Z"/>
<path d="M777.2 307.0L782.5 315.7L771.9 315.7Z"/>
<path d="M760.8 324.3L766.1 333.0L755.5 333.0Z"/>
<path d="M772.0 323.0L777.3 331.7L766.7 331.7Z"/>
<path d="M779.2 325.9L784.5 334.6L773.9 334.6Z"/>
<path d="M758.4 328.6L763.7 337.3L753.1 337.3Z"/>
<path d="M783.2 332.6L788.5 341.3L777.9 341.3Z"/>
<path d="M756.0 343.0L761.3 351.7L750.7 351.7Z"/>
<path d="M767.7 347.8L773.0 356.5L762.4 356.5Z"/>
<path d="M769.6 370.2L774.9 378.9L764.3 378.9Z"/>
<path d="M763.2 386.9L768.5 395.6L757.9 395.6Z"/>
<path d="M794.3 329.4L799.6 338.1L789.0 338.1Z"/>
<path d="M791.1 331.0L796.4 339.7L785.8 339.7Z"/>
<path d="M803.9 329.4L809.2 338.1L798.6 338.1Z"/>
<path d="M799.9 331.0L805.2 339.7L794.6 339.7Z"/>
<path d="M813.5 324.6L818.8 333.3L808.2 333.3Z"/>
<path d="M810.3 325.4L815.6 334.1L805.0 334.1Z"/>
<path d="M823.1 324.3L828.4 333.0L817.8 333.0Z"/>
<path d="M819.1 330.2L824.4 338.9L813.8 338.9Z"/>
<path d="M830.3 324.6L835.6 333.3L825.0 333.3Z"/>
<path d="M835.1 322.2L840.4 330.9L829.8 330.9Z"/>
<path d="M836.7 328.6L842.0 337.3L831.4 337.3Z"/>
<path d="M838.3 333.4L843.6 342.1L833.0 342.1Z"/>
<path d="M843.9 335.8L849.2 344.5L838.6 344.5Z"/>
<path d="M824.7 338.2L830.0 346.9L819.4 346.9Z"/>
<path d="M790.4 338.2L795.7 346.9L785.1 346.9Z"/>
<path d="M788.0 346.2L793.3 354.9L782.7 354.9Z"/>
<path d="M802.3 342.2L807.6 350.9L797.0 350.9Z"/>
<path d="M815.9 346.2L821.2 354.9L810.6 354.9Z"/>
<path d="M831.9 343.0L837.2 351.7L826.6 351.7Z"/>
<path d="M827.1 350.2L832.4 358.9L821.8 358.9Z"/>
<path d="M845.5 347.0L850.8 355.7L840.2 355.7Z"/>
<path d="M806.3 352.6L811.6 361.3L801.0 361.3Z"/>
<path d="M796.7 354.2L802.0 362.9L791.4 362.9Z"/>
<path d="M820.7 355.0L826.0 363.7L815.4 363.7Z"/>
<path d="M785.6 356.3L790.9 365.0L780.3 365.0Z"/>
<path d="M809.2 360.6L814.5 369.3L803.9 369.3Z"/>
<path d="M840.7 361.4L846.0 370.1L835.4 370.1Z"/>
<path d="M847.9 367.0L853.2 375.7L842.6 375.7Z"/>
<path d="M861.9 371.0L867.2 379.7L856.6 379.7Z"/>
<path d="M871.0 343.0L876.3 351.7L865.7 351.7Z"/>
<path d="M868.7 351.8L874.0 360.5L863.4 360.5Z"/>
<path d="M866.3 355.0L871.6 363.7L861.0 363.7Z"/>
<path d="M854.3 330.2L859.6 338.9L849.0 338.9Z"/>
<path d="M851.1 329.4L856.4 338.1L845.8 338.1Z"/>
<path d="M850.3 315.0L855.6 323.7L845.0 323.7Z"/>
<path d="M857.1 310.2L862.4 318.9L851.8 318.9Z"/>
<path d="M864.7 313.4L870.0 322.1L859.4 322.1Z"/>
<path d="M859.9 318.2L865.2 326.9L854.6 326.9Z"/>
<path d="M878.2 318.2L883.5 326.9L872.9 326.9Z"/>
<path d="M875.0 327.0L880.3 335.7L869.7 335.7Z"/>
<path d="M871.8 327.8L877.1 336.5L866.5 336.5Z"/>
<path d="M879.0 331.0L884.3 339.7L873.7 339.7Z"/>
<path d="M917.6 297.8L922.9 306.5L912.3 306.5Z"/>
<path d="M919.1 307.0L924.4 315.7L913.8 315.7Z"/>
<path d="M926.3 307.8L931.6 316.5L921.0 316.5Z"/>
<path d="M914.4 311.8L919.7 320.5L909.1 320.5Z"/>
<path d="M909.6 315.0L914.9 323.7L904.3 323.7Z"/>
<path d="M912.8 320.6L918.1 329.3L907.5 329.3Z"/>
<path d="M942.3 311.8L947.6 320.5L937.0 320.5Z"/>
<path d="M956.4 305.1L961.7 313.8L951.1 313.8Z"/>
<path d="M963.1 311.0L968.4 319.7L957.8 319.7Z"/>
<path d="M894.4 322.2L899.7 330.9L889.1 330.9Z"/>
<path d="M886.4 323.8L891.7 332.5L881.1 332.5Z"/>
<path d="M880.8 321.4L886.1 330.1L875.5 330.1Z"/>
<path d="M891.2 335.0L896.5 343.7L885.9 343.7Z"/>
<path d="M889.6 339.8L894.9 348.5L884.3 348.5Z"/>
<path d="M901.6 338.2L906.9 346.9L896.3 346.9Z"/>
<path d="M905.6 336.6L910.9 345.3L900.3 345.3Z"/>
<path d="M908.8 335.0L914.1 343.7L903.5 343.7Z"/>
<path d="M899.2 343.8L904.5 352.5L893.9 352.5Z"/>
<path d="M885.6 351.0L890.9 359.7L880.3 359.7Z"/>
<path d="M896.0 354.2L901.3 362.9L890.7 362.9Z"/>
<path d="M904.0 358.2L909.3 366.9L898.7 366.9Z"/>
<path d="M933.5 332.9L938.8 341.6L928.2 341.6Z"/>
<path d="M920.7 342.2L926.0 350.9L915.4 350.9Z"/>
<path d="M923.9 346.2L929.2 354.9L918.6 354.9Z"/>
<path d="M928.7 355.8L934.0 364.5L923.4 364.5Z"/>
<path d="M931.1 365.4L936.4 374.1L925.8 374.1Z"/>
<path d="M935.1 347.0L940.4 355.7L929.8 355.7Z"/>
<path d="M937.5 350.2L942.8 358.9L932.2 358.9Z"/>
<path d="M941.5 343.0L946.8 351.7L936.2 351.7Z"/>
<path d="M944.7 336.6L950.0 345.3L939.4 345.3Z"/>
<path d="M947.9 340.6L953.2 349.3L942.6 349.3Z"/>
<path d="M953.5 329.4L958.8 338.1L948.2 338.1Z"/>
<path d="M959.1 332.6L964.4 341.3L953.8 341.3Z"/>
<path d="M961.5 326.2L966.8 334.9L956.2 334.9Z"/>
<path d="M965.5 343.8L970.8 352.5L960.2 352.5Z"/>
<path d="M967.6 354.2L972.9 362.9L962.3 362.9Z"/>
<path d="M972.7 356.6L978.0 365.3L967.4 365.3Z"/>
<path d="M977.5 355.8L982.8 364.5L972.2 364.5Z"/>
<path d="M979.1 347.8L984.4 356.5L973.8 356.5Z"/>
<path d="M982.3 354.2L987.6 362.9L977.0 362.9Z"/>
<path d="M985.5 355.0L990.8 363.7L980.2 363.7Z"/>
<path d="M951.6 364.6L956.9 373.3L946.3 373.3Z"/>
<path d="M970.3 372.2L975.6 380.9L965.0 380.9Z"/>
<path d="M985.5 367.8L990.8 376.5L980.2 376.5Z"/>
<path d="M990.3 366.2L995.6 374.9L985.0 374.9Z"/>
<path d="M995.9 367.0L1001.2 375.7L990.6 375.7Z"/>
<path d="M987.1 378.2L992.4 386.9L981.8 386.9Z"/>
<path d="M993.5 382.9L998.8 391.6L988.2 391.6Z"/>
<path d="M997.8 332.3L1003.1 341.0L992.5 341.0Z"/>
<path d="M435.8 305.1L441.1 313.8L430.5 313.8Z"/>
<path d="M590.9 311.3L596.2 320.0L585.6 320.0Z"/>
</g></g>
<g font-size="32">
<text x="91.7" y="23.0" text-anchor="end">2.0</text>
<text x="91.7" y="192.1" text-anchor="end">1.5</text>
<text x="91.7" y="361.2" text-anchor="end">1.0</text>
<text x="91.7" y="530.4" text-anchor="end">0.5</text>
<text x="91.7" y="699.5" text-anchor="end">0.0</text>
<text x="115.2" y="738.4" text-anchor="middle">300</text>
<text x="335.9" y="738.4" text-anchor="middle">350</text>
<text x="556.7" y="738.4" text-anchor="middle">400</text>
<text x="777.5" y="738.4" text-anchor="middle">450</text>
<text x="998.2" y="738.4" text-anchor="middle">500</text>
<text x="576.5" y="794" text-anchor="middle" textLength="219" lengthAdjust="spacingAndGlyphs">temperature (K)</text>
</g>
<g transform="translate(19.5,406) rotate(-90)">
<g transform="translate(0,0)"><g fill="none" stroke="#000" stroke-linecap="butt" stroke-linejoin="round"><path d="M0 -21 L7 -21 L5.8 -15.6 L2.5 -15.6 L2.5 -12.5 L0 -12.5 Z" fill="#000" stroke="none"/><path d="M5.6 -21 L9.4 -7.6" stroke-width="2.3"/><path d="M15.7 -21.5 L9.9 -6.8" stroke-width="3.2"/><path d="M9.6 -8.5 L8 7" stroke-width="3.3" stroke-linecap="round"/><circle cx="7.8" cy="6.2" r="2.3" fill="#000" stroke="none"/></g></g>
<g transform="translate(63,0)"><g fill="none" stroke="#000" stroke-linecap="butt" stroke-linejoin="round"><path d="M0 -21 L7 -21 L5.8 -15.6 L2.5 -15.6 L2.5 -12.5 L0 -12.5 Z" fill="#000" stroke="none"/><path d="M5.6 -21 L9.4 -7.6" stroke-width="2.3"/><path d="M15.7 -21.5 L9.9 -6.8" stroke-width="3.2"/><path d="M9.6 -8.5 L8 7" stroke-width="3.3" stroke-linecap="round"/><circle cx="7.8" cy="6.2" r="2.3" fill="#000" stroke="none"/></g></g>
<text x="18" y="12.1" font-size="23.5">ini</text>
<text x="42" y="-0.5" font-size="39">,</text>
<text x="79.8" y="12.1" font-size="23.5">rel</text>
</g>
<rect x="426" y="47" width="243" height="78" fill="#000" shape-rendering="crispEdges"/><rect x="430" y="51" width="236" height="71" fill="#fff" shape-rendering="crispEdges"/>
<text x="451.30" y="95.9" font-size="39.5">Zr</text>
<text x="489.50" y="109.7" font-size="24.3">46</text>
<text x="518.10" y="95.9" font-size="39.5">Cu</text>
<text x="568.80" y="109.7" font-size="24.3">46</text>
<text x="595.00" y="95.9" font-size="39.5">Al</text>
<text x="630.80" y="109.7" font-size="24.3">8</text>
<rect x="458" y="162" width="186" height="54" fill="#000" shape-rendering="crispEdges"/><rect x="462" y="165" width="179" height="47" fill="#fff" shape-rendering="crispEdges"/>
<text x="551" y="199.7" font-size="31" text-anchor="middle">1.25 K/min</text>
<rect x="432" y="468" width="216" height="87" fill="#000" shape-rendering="crispEdges"/><rect x="435" y="471" width="209" height="81" fill="#fff" shape-rendering="crispEdges"/>
<ellipse cx="473.5" cy="491.8" rx="5.3" ry="5.5" fill="#0000ff" shape-rendering="crispEdges"/>
<path d="M473.2 525.5 L478.5 534.2 L467.9 534.2 Z" fill="#fff" stroke="#ff0000" stroke-width="1" shape-rendering="crispEdges"/>
<text x="518.7" y="501.8" font-size="30.1" textLength="70.6" lengthAdjust="spacingAndGlyphs">initial</text>
<text x="518.7" y="541.3" font-size="30.1" textLength="101.6" lengthAdjust="spacingAndGlyphs">relaxed</text>
</svg></body></html>
